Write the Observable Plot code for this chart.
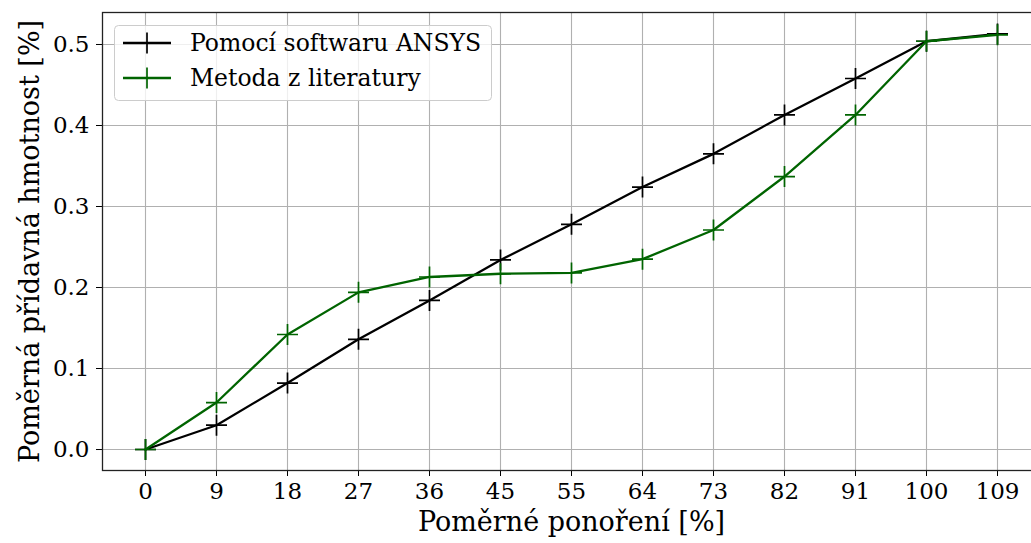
<!DOCTYPE html>
<html>
<head>
<meta charset="utf-8">
<script src="https://cdn.jsdelivr.net/npm/d3@7"></script>
<script src="https://cdn.jsdelivr.net/npm/@observablehq/plot@0.6"></script>
<style>
  html, body { margin: 0; padding: 0; background: white; }
  #wrap { position: relative; width: 1031px; height: 543px; overflow: hidden; }
  #wrap svg, #wrap svg text { font-family: 'DejaVu Serif' !important; }
  #legend { position: absolute; left: 0; top: 0; }
</style>
</head>
<body>
<div id="wrap"></div>
<script>
// ---- data ----
const xLabels = ["0", "9", "18", "27", "36", "45", "55", "64", "73", "82", "91", "100", "109"];
const ansysValues = [0.000, 0.030, 0.082, 0.136, 0.184, 0.234, 0.278, 0.324, 0.365, 0.413, 0.458, 0.504, 0.513];
const literatureValues = [0.000, 0.058, 0.142, 0.194, 0.213, 0.217, 0.218, 0.235, 0.271, 0.337, 0.413, 0.504, 0.512];
const yTicks = [0.0, 0.1, 0.2, 0.3, 0.4, 0.5];
const seriesNames = ["Pomocí softwaru ANSYS", "Metoda z literatury"];
const seriesColors = ["#000000", "#006400"];
const xTitle = "Poměrné ponoření [%]";
const yTitle = "Poměrná přídavná hmotnost [%]";

const ansys = xLabels.map((x, i) => ({x, y: ansysValues[i]}));
const literature = xLabels.map((x, i) => ({x, y: literatureValues[i]}));

// thin "+" marker like matplotlib
const plusSymbol = {
  draw(context, size) {
    const r = Math.sqrt(size / Math.PI);
    context.moveTo(-r, 0); context.lineTo(r, 0);
    context.moveTo(0, -r); context.lineTo(0, r);
  }
};

const chart = Plot.plot({
  width: 1031,
  height: 543,
  marginLeft: 102,
  marginRight: -9,
  marginTop: 12,
  marginBottom: 73,
  style: {fontFamily: "DejaVu Serif", fontSize: "23px", background: "white", color: "black", overflow: "hidden"},
  x: {type: "point", domain: xLabels, padding: 0.6},
  y: {domain: [-0.0259, 0.5395]},
  marks: [
    Plot.gridX(xLabels, {stroke: "#b0b0b0", strokeOpacity: 1, strokeWidth: 1.1}),
    Plot.gridY(yTicks, {stroke: "#b0b0b0", strokeOpacity: 1, strokeWidth: 1.1}),
    Plot.axisX({ticks: xLabels, tickSize: 6, tickPadding: 6, label: null, stroke: "#000", fontFamily: "DejaVu Serif"}),
    Plot.axisY({ticks: yTicks, tickFormat: ".1f", tickSize: 6, tickPadding: 7, label: null, stroke: "#000", fontFamily: "DejaVu Serif"}),
    Plot.frame({stroke: "#222", strokeWidth: 1.3}),
    Plot.line(ansys, {x: "x", y: "y", stroke: seriesColors[0], strokeWidth: 2.3}),
    Plot.dot(ansys, {x: "x", y: "y", symbol: plusSymbol, r: 10.5, stroke: seriesColors[0], strokeWidth: 1.7, fill: "none"}),
    Plot.line(literature, {x: "x", y: "y", stroke: seriesColors[1], strokeWidth: 2.3}),
    Plot.dot(literature, {x: "x", y: "y", symbol: plusSymbol, r: 10.5, stroke: seriesColors[1], strokeWidth: 1.7, fill: "none"}),
    Plot.text([xTitle], {frameAnchor: "bottom", textAnchor: "middle", lineAnchor: "middle", dy: 52, fontSize: 27, fill: "black", fontFamily: "DejaVu Serif"}),
    Plot.text([yTitle], {frameAnchor: "left", textAnchor: "middle", lineAnchor: "middle", rotate: -90, dx: -72, fontSize: 27, fill: "black", fontFamily: "DejaVu Serif"})
  ]
});
document.getElementById("wrap").appendChild(chart);

// ---- legend (overlay inside the axes, upper left) ----
const lg = d3.select("#wrap").append("svg")
  .attr("id", "legend")
  .attr("width", 1031).attr("height", 543)
  .style("font-family", "'DejaVu Serif'");
lg.append("rect")
  .attr("x", 114.5).attr("y", 25.5).attr("width", 377).attr("height", 75)
  .attr("rx", 4).attr("fill", "white").attr("fill-opacity", 0.8)
  .attr("stroke", "#cccccc").attr("stroke-width", 1);
const rowY = [43, 78];
seriesNames.forEach((name, i) => {
  const g = lg.append("g");
  g.append("line").attr("x1", 123).attr("x2", 171).attr("y1", rowY[i]).attr("y2", rowY[i])
    .attr("stroke", seriesColors[i]).attr("stroke-width", 2.3);
  g.append("line").attr("x1", 147).attr("x2", 147).attr("y1", rowY[i] - 10.5).attr("y2", rowY[i] + 10.5)
    .attr("stroke", seriesColors[i]).attr("stroke-width", 1.7);
  g.append("text").attr("x", 190).attr("y", rowY[i]).attr("dy", "0.35em")
    .attr("font-size", 23.5).attr("fill", "black").text(name);
});
</script>
</body>
</html>
